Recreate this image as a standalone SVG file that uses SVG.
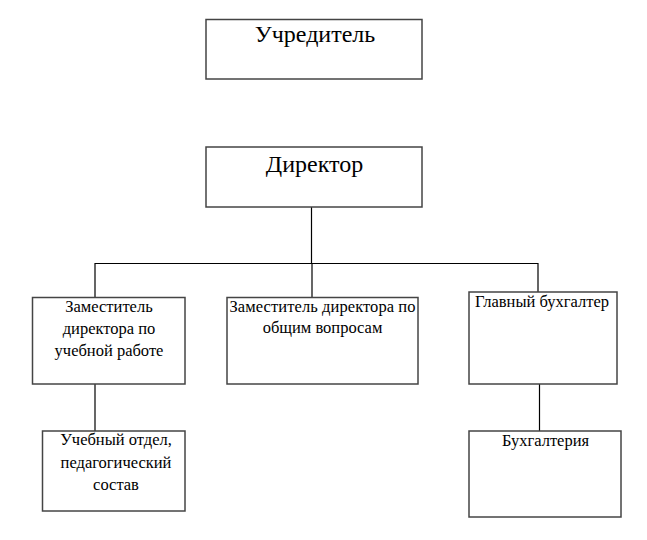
<svg xmlns="http://www.w3.org/2000/svg" width="647" height="540" viewBox="0 0 647 540">
<style>
.box{fill:#fff;stroke:#444;stroke-width:1.5}
.ln{fill:none;stroke:#000;stroke-width:1.2}
text{font-family:"Liberation Serif","DejaVu Serif",serif;fill:#000;text-anchor:middle}
.big{font-size:24px}
.sm{font-size:16.5px}
</style>
<rect width="647" height="540" fill="#fff"/>
<g id="connectors">
<path class="ln" d="M311.5 207V263.5"/>
<path class="ln" d="M95 297V263.5H538V292"/>
<path class="ln" d="M312 263.5V297"/>
<path class="ln" d="M95 384V431"/>
<path class="ln" d="M539.5 384V431"/>
</g>
<g id="uchreditel">
<rect class="box" x="206" y="19.5" width="216" height="59.5"/>
<text class="big" x="315" y="42">Учредитель</text>
</g>
<g id="direktor">
<rect class="box" x="206" y="147" width="216" height="60"/>
<text class="big" x="314.5" y="172">Директор</text>
</g>
<g id="zam-ucheb">
<rect class="box" x="32.5" y="297.5" width="152.5" height="86.5"/>
<text class="sm" x="109" y="312">Заместитель</text>
<text class="sm" x="109" y="334">директора по</text>
<text class="sm" x="109" y="356">учебной работе</text>
</g>
<g id="zam-obsh">
<rect class="box" x="227" y="297.5" width="191" height="86.5"/>
<text class="sm" x="322.5" y="312" textLength="186" lengthAdjust="spacing">Заместитель директора по</text>
<text class="sm" x="322.5" y="333">общим вопросам</text>
</g>
<g id="glavbuh">
<rect class="box" x="469" y="292" width="148" height="92"/>
<text class="sm" x="542" y="307">Главный бухгалтер</text>
</g>
<g id="uchebny-otdel">
<rect class="box" x="42.5" y="431" width="142.5" height="80"/>
<text class="sm" x="116" y="445">Учебный отдел,</text>
<text class="sm" x="116" y="468">педагогический</text>
<text class="sm" x="116" y="490">состав</text>
</g>
<g id="buhgalteriya">
<rect class="box" x="469" y="431" width="152" height="86"/>
<text class="sm" x="545.5" y="446">Бухгалтерия</text>
</g>
</svg>
